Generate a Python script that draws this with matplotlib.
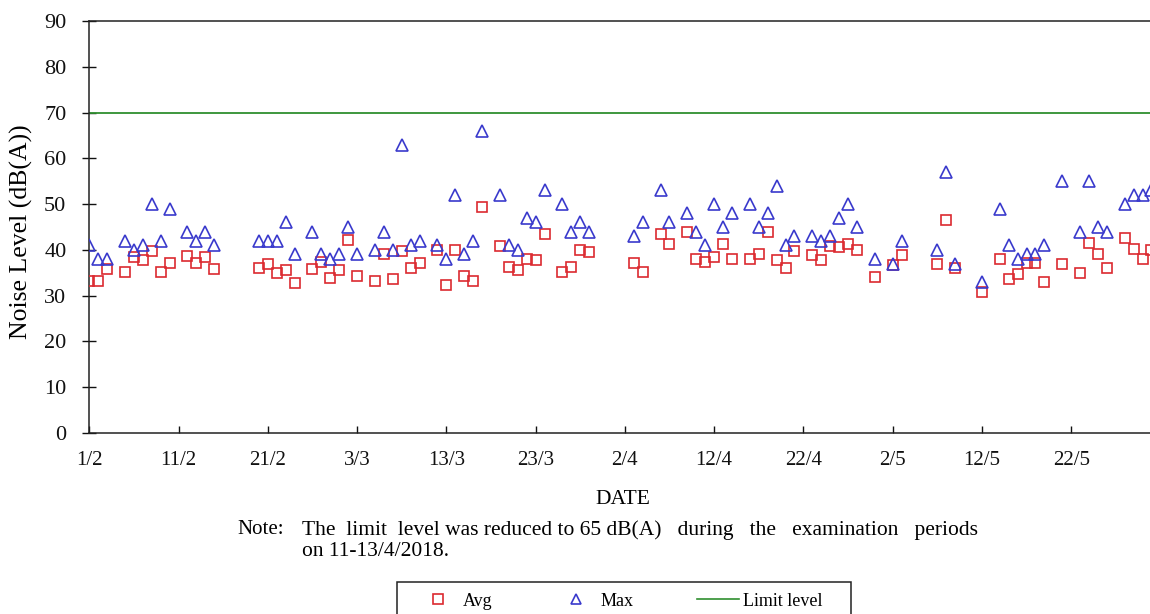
import matplotlib
matplotlib.use('Agg')
import matplotlib.pyplot as plt
from matplotlib.lines import Line2D
from matplotlib.patches import Rectangle

plt.rcParams['font.family'] = ['Liberation Serif', 'DejaVu Serif']

# measuring days, counted from 1/2/2018 (day 0)
days = [0, 1, 2, 4, 5, 6, 7, 8, 9, 11, 12, 13, 14,
        19, 20, 21, 22, 23,
        25, 26, 27, 28, 29, 30,
        32, 33, 34, 35, 36, 37,
        39, 40, 41, 42, 43, 44,
        46, 47, 48, 49, 50, 51,
        53, 54, 55, 56,
        61, 62, 64, 65,
        67, 68, 69, 70, 71, 72,
        74, 75, 76, 77, 78, 79,
        81, 82, 83, 84, 85, 86,
        88, 90, 91,
        95, 96, 97,
        100,
        102, 103, 104, 105, 106, 107,
        109, 111, 112, 113, 114,
        116, 117, 118, 119]

avg_level = [33.2, 33.2, 35.8, 35.2, 38.5, 37.9, 39.8, 35.2, 37.2, 38.7, 37.2, 38.5, 35.8,
             36.1, 36.9, 35.0, 35.5, 32.7,
             35.8, 37.3, 33.8, 35.6, 42.2, 34.4,
             33.2, 39.1, 33.6, 39.8, 36.1, 37.2,
             40.0, 32.3, 40.0, 34.4, 33.2, 49.4,
             40.9, 36.3, 35.5, 38.0, 37.8, 43.5,
             35.2, 36.3, 40.0, 39.5,
             37.2, 35.2, 43.5, 41.2,
             43.8, 38.0, 37.4, 38.4, 41.2, 38.0,
             38.0, 39.2, 44.0, 37.8, 36.1, 39.8,
             38.9, 37.8, 40.9, 40.7, 41.2, 40.0,
             34.1, 36.7, 38.9,
             36.9, 46.5, 36.1,
             30.7,
             38.0, 33.6, 34.7, 37.2, 37.2, 32.9,
             36.9, 35.0, 41.4, 39.1, 36.1,
             42.7, 40.1, 38.0, 40.0]

max_level = [41, 38, 38, 42, 40, 41, 50, 42, 49, 44, 42, 44, 41,
             42, 42, 42, 46, 39,
             44, 39, 38, 39, 45, 39,
             40, 44, 40, 63, 41, 42,
             41, 38, 52, 39, 42, 66,
             52, 41, 40, 47, 46, 53,
             50, 44, 46, 44,
             43, 46, 53, 46,
             48, 44, 41, 50, 45, 48,
             50, 45, 48, 54, 41, 43,
             43, 42, 43, 47, 50, 45,
             38, 37, 42,
             40, 57, 37,
             33,
             49, 41, 38, 39, 39, 41,
             55, 44, 55, 45, 44,
             50, 52, 52, 53]

limit_level = 70

tick_days = [0, 10, 20, 30, 40, 50, 60, 70, 80, 90, 100, 110]
tick_labels = ['1/2', '11/2', '21/2', '3/3', '13/3', '23/3',
               '2/4', '12/4', '22/4', '2/5', '12/5', '22/5']

W, H = 1150, 614
fig = plt.figure(figsize=(W / 100, H / 100), dpi=100)
# axes runs slightly past the right edge of the picture
ax = fig.add_axes([89.3 / W, 1 - 433 / H, (1160.4 - 89.3) / W, (433 - 21) / H])

red = '#dc2a30'
blue = '#3a3acc'
green = '#2f8f2f'

ax.axhline(limit_level, color=green, lw=1.3, zorder=2)
ax.plot(days, avg_level, ls='none', marker='s', ms=7.8, mfc='none',
        mec=red, mew=1.2, zorder=3)
ax.plot(days, max_level, ls='none', marker='^', ms=8.2, mfc='none',
        mec=blue, mew=1.2, zorder=3)

ax.set_xlim(0, 120)
ax.set_ylim(0, 90)
ax.set_yticks(range(0, 91, 10))
ax.set_xticks(tick_days)
ax.set_xticklabels(tick_labels)

for s in ['left', 'bottom', 'top', 'right']:
    ax.spines[s].set_linewidth(1.1)
    ax.spines[s].set_color('#222222')

ax.tick_params(axis='x', direction='in', length=5, width=1, pad=13,
               labelsize=15, colors='#111111')
ax.tick_params(axis='y', direction='inout', length=10, width=1, pad=11.5,
               labelsize=16, colors='#111111')

fig.text(21.7 / W, 1 - 232 / H, 'Noise Level (dB(A))', rotation=90,
         ha='center', va='center', fontsize=18.5)
fig.text(623 / W, 1 - 499 / H, 'DATE', ha='center', va='center', fontsize=15.5)

fig.text(237 / W, 1 - 530 / H, 'Note:', ha='left', va='center', fontsize=15)
fig.text(301.7 / W, 1 - 530 / H,
         'The  limit  level was reduced to 65 dB(A)   during   the   examination   periods',
         ha='left', va='center', fontsize=15.5)
fig.text(301.7 / W, 1 - 552 / H, 'on 11-13/4/2018.', ha='left', va='center',
         fontsize=15.5)

# legend box, bottom edge is cut by the picture
fig.add_artist(Rectangle((396.7 / W, -0.02), (850.7 - 396.7) / W,
                         0.02 + 1 - 581.7 / H, transform=fig.transFigure,
                         fill=False, ec='#222222', lw=1.1))
handles = [Line2D([], [], ls='none', marker='s', ms=7, mfc='none', mec=red, mew=1.2),
           Line2D([], [], ls='none', marker='^', ms=7, mfc='none', mec=blue, mew=1.2),
           Line2D([], [], color=green, lw=1.2)]
fig.legend(handles, ['Avg', 'Max', 'Limit level'], ncol=3, frameon=False,
           loc='center left', bbox_to_anchor=(416.7 / W, 1 - 601 / H),
           borderaxespad=0, borderpad=0, handlelength=2.33, handletextpad=0.2,
           columnspacing=3.5, fontsize=13)

fig.savefig('out.png', dpi=100)
